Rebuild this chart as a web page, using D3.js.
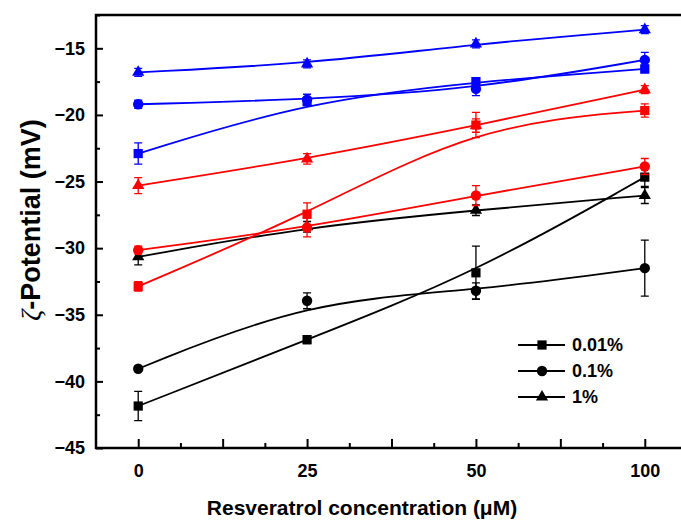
<!DOCTYPE html>
<html>
<head>
<meta charset="utf-8">
<script src="https://cdn.jsdelivr.net/npm/d3@7"></script>
<style>
  body { margin: 0; background: #fff; }
  svg { display: block; }
</style>
</head>
<body>
<svg id="chart" width="681" height="520"></svg>
<script>
// x categories (resveratrol, µM)
const concentrations = ['0', '25', '50', '100'];

// zeta potential means (mV) and error bars
const black001 = [-41.85, -36.87, -31.85, -24.67];
const black001Err = [1.1, 0.3, 2.0, 0.7];
const black01 = [-39.05, -33.95, -33.2, -31.5];
const black01Err = [0.2, 0.6, 0.6, 2.1];
const black1 = [-30.65, -28.4, -27.15, -26.05];
const black1Err = [0.6, 0.4, 0.4, 0.6];

const red001 = [-32.87, -27.45, -20.76, -19.67];
const red001Err = [0.35, 0.85, 0.95, 0.5];
const red01 = [-30.15, -28.45, -26.05, -23.87];
const red01Err = [0.3, 0.7, 0.75, 0.6];
const red1 = [-25.3, -23.3, -20.8, -18.1];
const red1Err = [0.6, 0.4, 0.5, 0.3];

const blue001 = [-22.9, -19.0, -17.5, -16.55];
const blue001Err = [0.8, 0.3, 0.3, 0.3];
const blue01 = [-19.2, -18.85, -18.05, -15.87];
const blue01Err = [0.3, 0.4, 0.5, 0.57];
const blue1 = [-16.8, -16.17, -14.67, -13.6];
const blue1Err = [0.3, 0.3, 0.3, 0.3];

const legendLabels = ['0.01%', '0.1%', '1%'];

const shapes = [d3.symbolSquare, d3.symbolCircle, d3.symbolTriangle];
const shapeSize = [85, 85, 65];

const series = [
  { values: black001, err: black001Err, color: '#000', shape: 0 },
  { values: black01, err: black01Err, color: '#000', shape: 1 },
  { values: black1, err: black1Err, color: '#000', shape: 2 },
  { values: red001, err: red001Err, color: '#f00', shape: 0 },
  { values: red01, err: red01Err, color: '#f00', shape: 1 },
  { values: red1, err: red1Err, color: '#f00', shape: 2 },
  { values: blue001, err: blue001Err, color: '#00f', shape: 0 },
  { values: blue01, err: blue01Err, color: '#00f', shape: 1 },
  { values: blue1, err: blue1Err, color: '#00f', shape: 2 }
];

const plotLeft = 96, plotRight = 687, plotTop = 15, plotBottom = 448;
const font = "'Liberation Sans', Arial, sans-serif";

const x = d3.scaleLinear().domain([-0.25, 3.25]).range([plotLeft, plotRight]);
const y = d3.scaleLinear().domain([-45, -12.5]).range([plotBottom, plotTop]);

const svg = d3.select('#chart');
svg.append('rect').attr('width', 681).attr('height', 520).attr('fill', '#fff');

// axes (ticks point inward)
const xMajor = d3.range(0, 3.01, 0.5);
const xMinor = d3.range(0.25, 3.3, 0.5);
svg.append('g')
  .attr('transform', `translate(0,${plotBottom})`)
  .call(d3.axisBottom(x).tickValues(xMinor).tickSize(-5).tickFormat(''));
svg.append('g')
  .attr('class', 'xaxis')
  .attr('transform', `translate(0,${plotBottom})`)
  .call(d3.axisBottom(x).tickValues(xMajor).tickSize(-9).tickPadding(16)
    .tickFormat(d => Number.isInteger(d) ? concentrations[d] : ''));

const yMajor = d3.range(-45, -14, 5);
const yMinor = d3.range(-42.5, -12, 5);
svg.append('g')
  .attr('transform', `translate(${plotLeft},0)`)
  .call(d3.axisLeft(y).tickValues(yMinor).tickSize(-4).tickFormat(''));
svg.append('g')
  .attr('class', 'yaxis')
  .attr('transform', `translate(${plotLeft},0)`)
  .call(d3.axisLeft(y).tickValues(yMajor).tickSize(-7).tickPadding(11).tickFormat(d3.format('d')));

svg.selectAll('.domain').remove();
svg.selectAll('.tick line').attr('stroke', '#000').attr('stroke-width', 2);
svg.selectAll('.tick text')
  .attr('font-family', font).attr('font-weight', 'bold').attr('font-size', 18).attr('fill', '#000');

svg.append('rect')
  .attr('x', plotLeft).attr('y', plotTop)
  .attr('width', plotRight - plotLeft).attr('height', plotBottom - plotTop)
  .attr('fill', 'none').attr('stroke', '#000').attr('stroke-width', 2.5);

// data
const line = d3.line()
  .x((d, i) => x(i))
  .y(d => y(d))
  .curve(d3.curveBasis);

series.forEach(s => {
  const g = svg.append('g');
  g.append('path')
    .attr('d', line(s.values))
    .attr('fill', 'none')
    .attr('stroke', s.color)
    .attr('stroke-width', 1.8);

  s.values.forEach((v, i) => {
    const e = s.err[i];
    const cx = x(i);
    g.append('path')
      .attr('d', `M${cx},${y(v - e)}V${y(v + e)}M${cx - 4},${y(v - e)}H${cx + 4}M${cx - 4},${y(v + e)}H${cx + 4}`)
      .attr('stroke', s.color)
      .attr('stroke-width', 1.3)
      .attr('fill', 'none');
  });

  g.selectAll('.mark')
    .data(s.values)
    .join('path')
    .attr('transform', (d, i) => `translate(${x(i)},${y(d)})`)
    .attr('d', d3.symbol(shapes[s.shape], shapeSize[s.shape]))
    .attr('fill', s.color);
});

// legend
const legend = svg.append('g');
legendLabels.forEach((label, i) => {
  const ly = 345 + i * 26;
  legend.append('line')
    .attr('x1', 518).attr('x2', 565).attr('y1', ly).attr('y2', ly)
    .attr('stroke', '#000').attr('stroke-width', 1.8);
  legend.append('path')
    .attr('transform', `translate(542,${ly})`)
    .attr('d', d3.symbol(shapes[i], shapeSize[i]))
    .attr('fill', '#000');
  legend.append('text')
    .attr('x', 572).attr('y', ly)
    .attr('dy', '0.35em')
    .attr('font-family', font).attr('font-weight', 'bold').attr('font-size', 18)
    .text(label);
});

// axis titles
svg.append('text')
  .attr('x', 362).attr('y', 515)
  .attr('text-anchor', 'middle')
  .attr('font-family', font).attr('font-weight', 'bold').attr('font-size', 21)
  .text('Resveratrol concentration (\u03bcM)');

const yTitle = svg.append('text')
  .attr('transform', 'translate(40,220) rotate(-90)')
  .attr('text-anchor', 'middle')
  .attr('font-family', font).attr('font-weight', 'bold').attr('font-size', 27);
yTitle.append('tspan')
  .attr('font-family', "'Liberation Serif', serif").attr('font-style', 'italic').attr('font-weight', 'normal')
  .text('\u03b6');
yTitle.append('tspan').text('-Potential (mV)');
</script>
</body>
</html>
